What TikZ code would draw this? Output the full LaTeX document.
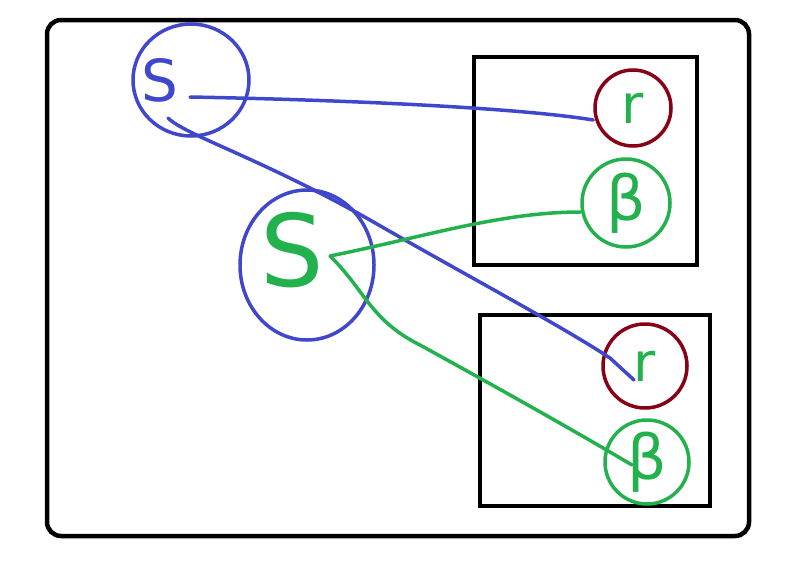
\documentclass[tikz,border=0pt]{standalone}
\usepackage{fontspec}
\setmainfont{DejaVu Sans}
\usetikzlibrary{shapes.geometric}
\definecolor{pblue}{RGB}{63,72,204}
\definecolor{pred}{RGB}{136,0,21}
\definecolor{pgreen}{RGB}{34,177,76}
\tikzset{
  x=1pt, y=-1pt,
  frame/.style={draw=black, line width=4.5pt},
  redc/.style={circle, draw=pred, line width=3.5pt, text=pgreen, inner sep=0pt},
  greenc/.style={circle, draw=pgreen, line width=3.5pt, text=pgreen, inner sep=0pt},
  bluec/.style={ellipse, draw=pblue, line width=3.5pt, inner sep=0pt},
  bline/.style={draw=pblue, line width=3.5pt, line cap=round},
  gline/.style={draw=pgreen, line width=3.5pt, line cap=round}
}
\begin{document}
\begin{tikzpicture}
\useasboundingbox (0,0) rectangle (799,570);
% outer frame
\draw[frame, rounded corners=14pt] (47,20) rectangle (749,536);
% right boxes
\draw[frame] (474,57) rectangle (697,265);
\draw[frame] (480,315) rectangle (710,506);
% circles
\node[redc, minimum size=76pt, font=\fontsize{54}{54}\selectfont] (r1) at (633,108) {r};
\node[greenc, minimum size=88pt, font=\fontsize{62}{62}\selectfont] (b1) at (626,203) {β};
\node[redc, minimum size=84pt, font=\fontsize{54}{54}\selectfont] (r2) at (645,366) {r};
\node[greenc, minimum size=84pt, font=\fontsize{62}{62}\selectfont] (b2) at (647,462) {β};
% S nodes
\node[bluec, minimum width=116pt, minimum height=112pt] (s1) at (191,80) {};
\node[text=pblue, font=\fontsize{58}{58}\selectfont] (s1t) at (160,80) {S};
\node[bluec, minimum width=134pt, minimum height=150pt] (s2) at (307,265) {};
\node[text=pgreen, font=\fontsize{100}{100}\selectfont] (s2t) at (292,250) {S};
% connector anchor points
\coordinate (a1) at (190,97);
\coordinate (a2) at (168,118);
\coordinate (g0) at (330,256);
\coordinate (e2) at (634,380);
\coordinate (f2) at (632,465);
% blue connectors
\draw[bline] (a1) .. controls (350,100) and (520,108) .. (r1.west |- 0,120);
\draw[bline] (a2) .. controls (185,135) and (260,158) .. (370,220)
  .. controls (460,272) and (560,325) .. (610,358) -- (e2);
% green connectors
\draw[gline] (g0) .. controls (420,238) and (500,212) .. (b1.west |- 0,212);
\draw[gline] (g0) .. controls (365,290) and (370,320) .. (420,345)
  .. controls (520,400) and (590,440) .. (f2);
\end{tikzpicture}
\end{document}
